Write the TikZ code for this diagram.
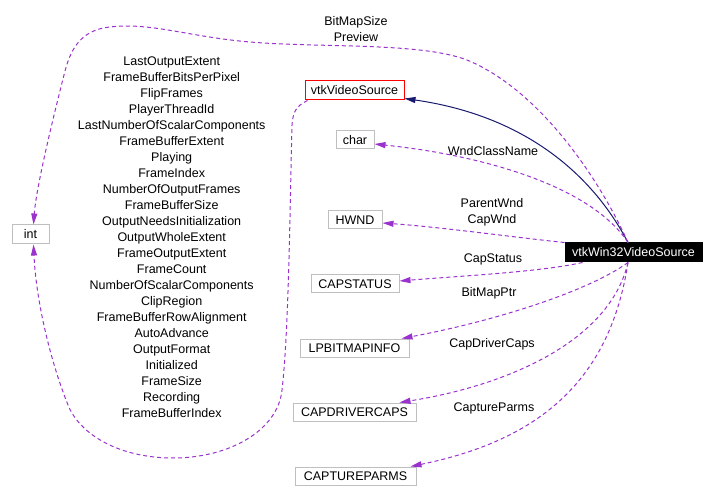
\documentclass[tikz,border=0pt]{standalone}
\usepackage{fontspec}
\setmainfont{Liberation Sans}
\usetikzlibrary{calc,arrows.meta}
\definecolor{edgepurple}{HTML}{9A32CD}
\definecolor{edgenavy}{HTML}{191970}
\definecolor{boxgrey}{HTML}{BFBFBF}
\tikzstyle{cls} = [draw=boxgrey, rectangle, line width=1pt, inner sep=0pt, minimum height=18pt, font=\fontsize{12.5}{16}\selectfont]
\tikzstyle{lbl} = [inner sep=0pt, align=center, font=\fontsize{12.5}{16}\selectfont]
\tikzstyle{use} = [edgepurple, line width=1pt, dash pattern=on 4pt off 3pt, -{Triangle[length=11pt,width=6pt]}]
\tikzstyle{inherit} = [edgenavy, line width=1pt, -{Triangle[length=11pt,width=6pt]}]

\begin{document}
\begin{tikzpicture}[x=1pt, y=-1pt]
    \useasboundingbox (0,0) rectangle (714,502);
    % classes
    \node[cls, minimum width=37pt, minimum height=19pt] (int) at (30.5,234.5) {int};
    \node[cls, draw=red, minimum width=99pt, minimum height=19pt] (vs) at (354.5,90.5) {vtkVideoSource};
    \node[cls, minimum width=38pt] (char) at (355,140) {char};
    \node[cls, minimum width=54pt] (hwnd) at (355,220) {HWND};
    \node[cls, draw=black, fill=black, text=white, minimum width=137pt, minimum height=19pt] (win) at (633.5,252.5) {vtkWin32VideoSource};
    \node[cls, minimum width=88pt] (capstatus) at (355,284) {CAPSTATUS};
    \node[cls, minimum width=109pt] (bmi) at (354.5,348) {LPBITMAPINFO};
    \node[cls, minimum width=123pt] (drvcaps) at (354.5,412) {CAPDRIVERCAPS};
    \node[cls, minimum width=121pt] (parms) at (355.5,476) {CAPTUREPARMS};
    % member names
    \node[lbl] (topnames) at (356,28.7) {BitMapSize\\Preview};
    \node[lbl] (vsnames) at (171.7,236.7) {LastOutputExtent\\FrameBufferBitsPerPixel\\FlipFrames\\PlayerThreadId\\LastNumberOfScalarComponents\\FrameBufferExtent\\Playing\\FrameIndex\\NumberOfOutputFrames\\FrameBufferSize\\OutputNeedsInitialization\\OutputWholeExtent\\FrameOutputExtent\\FrameCount\\NumberOfScalarComponents\\ClipRegion\\FrameBufferRowAlignment\\AutoAdvance\\OutputFormat\\Initialized\\FrameSize\\Recording\\FrameBufferIndex};
    \node[lbl] (charname) at (493,151) {WndClassName};
    \node[lbl] (hwndnames) at (492,212.7) {ParentWnd\\CapWnd};
    \node[lbl] (statusname) at (493,259) {CapStatus};
    \node[lbl] (bminame) at (489,293) {BitMapPtr};
    \node[lbl] (drvname) at (492,344) {CapDriverCaps};
    \node[lbl] (parmsname) at (494,408) {CaptureParms};
    % connectors
    \draw[inherit] ($(win.north)+(-5.5,0)$) .. controls (590,170) and (520,115) .. ($(vs.south east)+(0,-2)$);
    \draw[use] ($(win.north)+(-5.5,0)$) .. controls (600,180) and (540,90) .. (467,60)
        .. controls (420,42) and (320,48) .. (250,42)
        .. controls (190,37) and (150,22) .. (110,27)
        .. controls (80,30) and (70,50) .. (64,75)
        .. controls (50,130) and (36,190) .. ($(int.north)+(3,0)$);
    \draw[use] ($(vs.south west)+(3,0)$) .. controls (296,106) and (293,112) .. (292,125)
        .. controls (290,200) and (289,330) .. (282,390)
        .. controls (278,430) and (230,458) .. (173,458)
        .. controls (120,458) and (80,435) .. (68,405)
        .. controls (50,360) and (36,300) .. ($(int.south)+(3,0)$);
    \draw[use] ($(win.north)+(-5.5,0)$) .. controls (590,185) and (480,155) .. ($(char.east)+(0,4)$);
    \draw[use] (win.north west) .. controls (520,238) and (440,227) .. ($(hwnd.east)+(0,3)$);
    \draw[use] ($(win.south west)+(18,0)$) .. controls (540,272) and (460,276) .. ($(capstatus.east)+(0,-3)$);
    \draw[use] ($(win.south)+(-5.5,0)$) .. controls (590,290) and (500,320) .. ($(bmi.north east)+(-8,0)$);
    \draw[use] ($(win.south)+(-5.5,0)$) .. controls (610,340) and (510,385) .. ($(drvcaps.north east)+(-17,0)$);
    \draw[use] ($(win.south)+(-5.5,0)$) .. controls (610,380) and (540,440) .. ($(parms.north east)+(-6,0)$);
\end{tikzpicture}
\end{document}
